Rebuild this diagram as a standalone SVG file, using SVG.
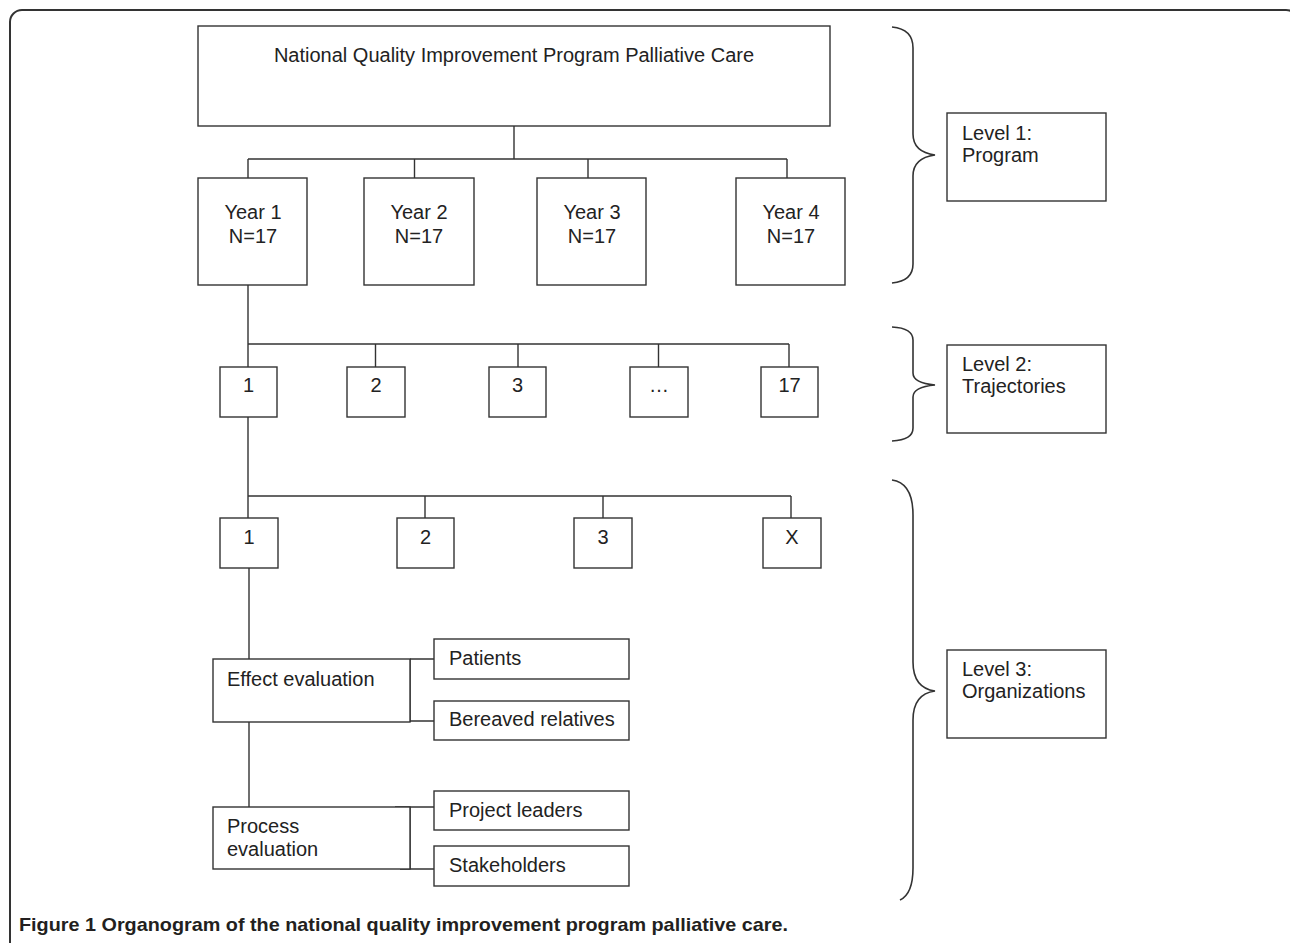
<svg xmlns="http://www.w3.org/2000/svg" width="1290" height="943" viewBox="0 0 1290 943">
<style>
.box{fill:#fff;stroke:#333;stroke-width:1.4}
.ln{fill:none;stroke:#333;stroke-width:1.4}
.br{fill:none;stroke:#333;stroke-width:1.6}
text{font-family:"Liberation Sans",Arial,sans-serif;font-size:20px;fill:#222}
.c{text-anchor:middle}
.cap{font-weight:bold;font-size:19px;fill:#231f20}
</style>
<rect width="1290" height="943" fill="#fff"/>
<rect id="frame" x="10" y="10" width="1288" height="1000" rx="12" fill="none" stroke="#333" stroke-width="2"/>
<g id="connectors">
<path class="ln" d="M514 126V159M248 159H787M248 159V178M414.5 159V178M588 159V178M787 159V178"/>
<path class="ln" d="M248 285V344M248 344H789M248 344V367M375.5 344V367M518 344V367M658.5 344V367M789 344V367"/>
<path class="ln" d="M248 417V496M248 496H791M248 496V518M425 496V518M603 496V518M791 496V518"/>
<path class="ln" d="M249 568V659M249 722V807"/>
<path class="ln" d="M410 659H434M410 721H434M395 807H434M400 869H434M410 659V722M410 807V869"/>
</g>
<g id="program"><rect class="box" x="198" y="26" width="632" height="100"/><text class="c" x="514" y="62">National Quality Improvement Program Palliative Care</text></g>
<g id="year1"><rect class="box" x="198" y="178" width="109" height="107"/><text class="c" x="253" y="219">Year 1</text><text class="c" x="253" y="243">N=17</text></g>
<g id="year2"><rect class="box" x="364" y="178" width="110" height="107"/><text class="c" x="419" y="219">Year 2</text><text class="c" x="419" y="243">N=17</text></g>
<g id="year3"><rect class="box" x="537" y="178" width="109" height="107"/><text class="c" x="592" y="219">Year 3</text><text class="c" x="592" y="243">N=17</text></g>
<g id="year4"><rect class="box" x="736" y="178" width="109" height="107"/><text class="c" x="791" y="219">Year 4</text><text class="c" x="791" y="243">N=17</text></g>
<g id="traj1"><rect class="box" x="220" y="367" width="57" height="50"/><text class="c" x="248.5" y="392">1</text></g>
<g id="traj2"><rect class="box" x="347" y="367" width="58" height="50"/><text class="c" x="376" y="392">2</text></g>
<g id="traj3"><rect class="box" x="489" y="367" width="57" height="50"/><text class="c" x="517.5" y="392">3</text></g>
<g id="trajdots"><rect class="box" x="630" y="367" width="58" height="50"/><text class="c" x="659" y="392">…</text></g>
<g id="traj17"><rect class="box" x="761" y="367" width="57" height="50"/><text class="c" x="789.5" y="392">17</text></g>
<g id="org1"><rect class="box" x="220" y="518" width="58" height="50"/><text class="c" x="249" y="544">1</text></g>
<g id="org2"><rect class="box" x="397" y="518" width="57" height="50"/><text class="c" x="425.5" y="544">2</text></g>
<g id="org3"><rect class="box" x="574" y="518" width="58" height="50"/><text class="c" x="603" y="544">3</text></g>
<g id="orgX"><rect class="box" x="763" y="518" width="58" height="50"/><text class="c" x="792" y="544">X</text></g>
<g id="effect"><rect class="box" x="213" y="659" width="197" height="63"/><text x="227" y="686">Effect evaluation</text></g>
<g id="patients"><rect class="box" x="434" y="639" width="195" height="40"/><text x="449" y="665">Patients</text></g>
<g id="bereaved"><rect class="box" x="434" y="701" width="195" height="39"/><text x="449" y="726">Bereaved relatives</text></g>
<g id="process"><rect class="box" x="213" y="807" width="197" height="62"/><text x="227" y="833">Process</text><text x="227" y="856">evaluation</text></g>
<g id="leaders"><rect class="box" x="434" y="791" width="195" height="39"/><text x="449" y="817">Project leaders</text></g>
<g id="stakeholders"><rect class="box" x="434" y="846" width="195" height="40"/><text x="449" y="872">Stakeholders</text></g>
<g id="brace1"><path class="br" d="M892 27Q913 29 913 48V134Q913 152 935 155Q913 158 913 176V264Q913 281 892 283"/></g>
<g id="level1"><rect class="box" x="947" y="113" width="159" height="88"/><text x="962" y="140">Level 1:</text><text x="962" y="162">Program</text></g>
<g id="brace2"><path class="br" d="M892 327Q913 328 913 340V373Q913 383 935 385Q913 387 913 397V428Q913 440 892 441"/></g>
<g id="level2"><rect class="box" x="947" y="345" width="159" height="88"/><text x="962" y="371">Level 2:</text><text x="962" y="393">Trajectories</text></g>
<g id="brace3"><path class="br" d="M892 480Q913 483 913 515V662Q913 688 935 691Q913 694 913 720V868Q913 894 900 900"/></g>
<g id="level3"><rect class="box" x="947" y="650" width="159" height="88"/><text x="962" y="676">Level 3:</text><text x="962" y="698">Organizations</text></g>
<text class="cap" x="19" y="931" textLength="769" lengthAdjust="spacingAndGlyphs">Figure 1 Organogram of the national quality improvement program palliative care.</text>
</svg>
